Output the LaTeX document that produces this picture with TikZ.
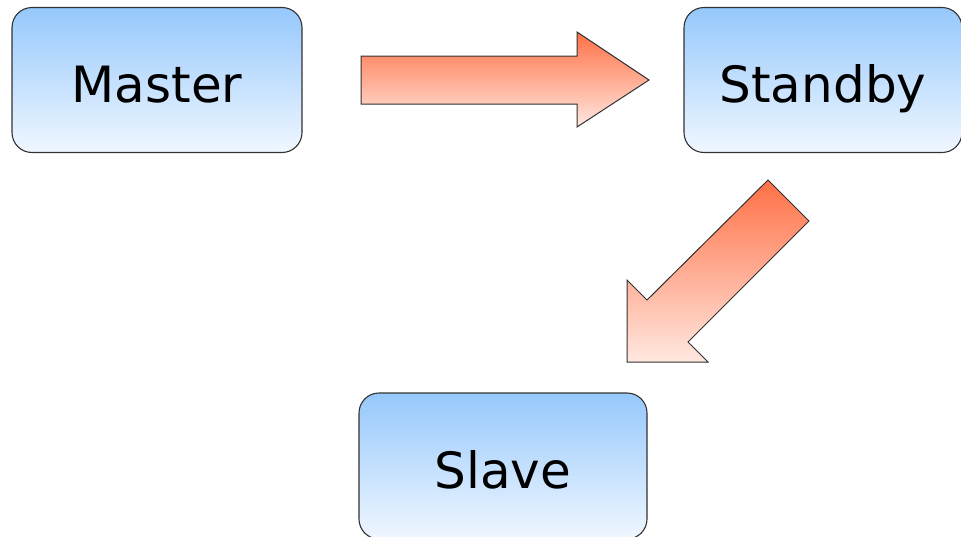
\documentclass[tikz,border=0pt]{standalone}
\usepackage{fontspec}
\setmainfont{DejaVu Sans}
\definecolor{boxtop}{RGB}{150,200,252}
\definecolor{boxbot}{RGB}{240,247,255}
\definecolor{arrtop}{RGB}{255,112,70}
\definecolor{arrbot}{RGB}{255,232,224}
\definecolor{edge}{RGB}{50,50,50}
\tikzset{
  statebox/.style={draw=edge, line width=1.1pt, rounded corners=20pt,
    top color=boxtop, bottom color=boxbot, inner sep=0pt,
    text height=44pt, text depth=0pt,
    font=\fontsize{50}{60}\selectfont, text=black},
  blockarrow/.style={draw=edge, line width=1pt, top color=arrtop, bottom color=arrbot}
}
\begin{document}
\begin{tikzpicture}[x=1pt,y=-1pt]
\useasboundingbox (0,0) rectangle (961,536);
\node[statebox, minimum width=290pt, minimum height=145pt] (master) at (157,80) {Master};
\node[statebox, minimum width=278pt, minimum height=145pt] (standby) at (823,80) {Standby};
\node[statebox, minimum width=288pt, minimum height=146pt] (slave) at (503,466) {Slave};
% horizontal block arrow
\draw[blockarrow] (361,56) -- (577,56) -- (577,32) -- (649,80) -- (577,127) -- (577,104) -- (361,104) -- cycle;
% diagonal block arrow
\draw[blockarrow] (768,180) -- (809,221) -- (688,342) -- (708,362) -- (627,362) -- (627,280) -- (647,300) -- cycle;
\end{tikzpicture}
\end{document}
